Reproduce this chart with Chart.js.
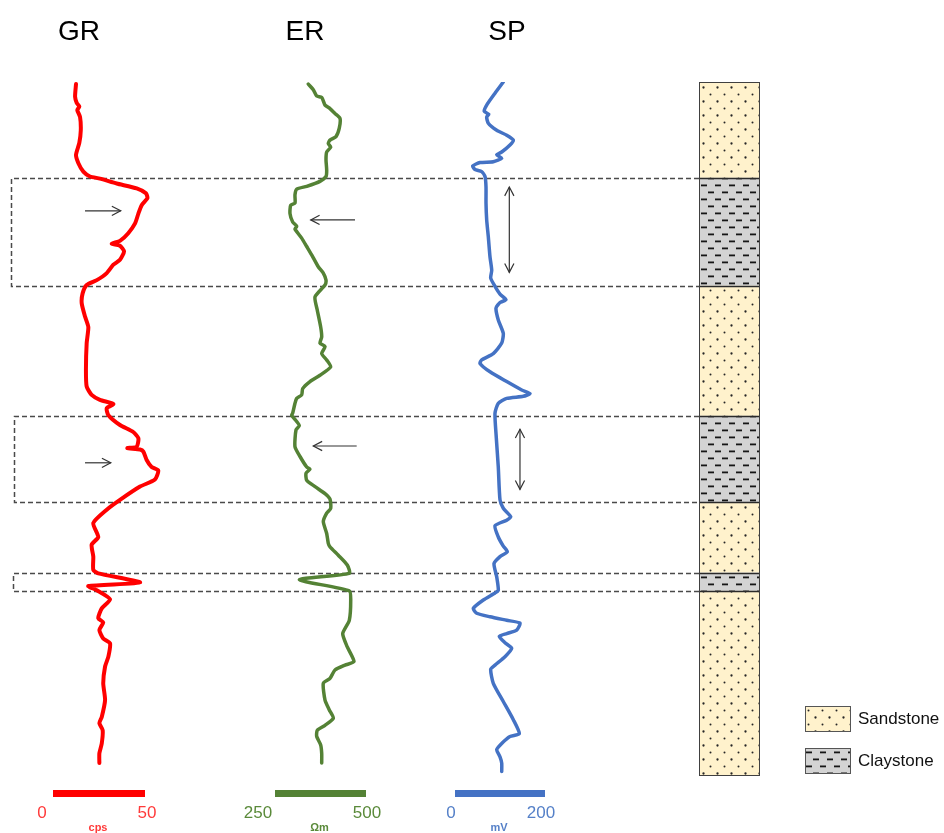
<!DOCTYPE html>
<html>
<head>
<meta charset="utf-8">
<script src="https://cdn.jsdelivr.net/npm/chart.js@4/dist/chart.umd.min.js"></script>
<style>
  html, body { margin: 0; padding: 0; background: #ffffff; }
  canvas { display: block; }
</style>
</head>
<body>
<canvas id="wellLog" width="944" height="833"></canvas>
<script>
// ---- Log data: depth in metres below the top of the interval ----
const grDepth = [0.3, 2.1, 3.0, 3.5, 4.0, 5.0, 6.9, 8.7, 10.4, 11.6, 12.8, 13.5, 13.8, 14.5, 15.2, 15.9, 16.6, 17.6, 18.8, 20.2,
  21.6, 22.7, 23.1, 23.4, 24.2, 25.4, 26.1, 27.3, 28.3, 29.0, 30.2, 31.6, 33.5, 35.0, 37.3, 41.1, 43.5, 44.7, 45.4, 46.0,
  46.6, 47.6, 49.0, 50.0, 50.9, 52.1, 52.3, 52.5, 52.8, 54.0, 55.0, 55.5, 56.8, 57.8, 59.7, 61.1, 63.0, 65.0, 66.1, 67.8,
  69.7, 70.2, 71.5, 72.0, 72.6, 73.9, 75.2, 76.6, 77.2, 78.3, 79.5, 80.2, 82.1, 83.5, 85.9, 88.3, 90.7, 91.6, 92.6, 94.5,
  95.9, 97.3];
const grCps = [12.5, 12.0, 12.9, 14.3, 13.2, 14.7, 15.1, 14.3, 12.5, 13.8, 16.5, 20.1, 25.5, 34.6, 45.5, 50.5, 51.3, 48.2, 46.4, 44.6,
  40.9, 36.4, 31.9, 36.4, 38.6, 36.4, 32.8, 29.2, 23.8, 18.3, 16.1, 15.6, 17.4, 19.2, 18.3, 17.9, 18.3, 21.0, 25.5, 32.8,
  29.2, 30.1, 36.4, 43.6, 46.4, 45.5, 40.4, 47.3, 49.1, 50.9, 53.6, 57.2, 55.4, 47.3, 36.4, 29.2, 21.9, 24.6, 21.0, 21.9,
  21.9, 24.6, 47.3, 19.2, 23.8, 31.0, 26.5, 24.6, 27.3, 25.2, 27.3, 31.0, 30.1, 28.3, 27.3, 28.3, 26.5, 25.2, 27.0, 26.5,
  25.2, 25.2];

const erDepth = [0.3, 1.1, 2.0, 2.2, 3.3, 3.8, 4.5, 5.2, 6.6, 7.8, 8.3, 8.8, 9.3, 10.0, 11.1, 12.6, 13.5, 14.2, 14.9, 15.3,
  16.1, 17.3, 17.6, 18.8, 20.0, 20.6, 21.0, 22.3, 23.5, 24.7, 26.4, 27.3, 28.3, 29.0, 30.7, 32.6, 35.0, 36.4, 37.3, 37.8,
  38.8, 39.7, 40.7, 41.9, 42.8, 43.8, 44.7, 45.2, 45.9, 47.3, 47.6, 48.5, 49.1, 49.7, 52.1, 53.5, 55.0, 55.3, 55.9, 56.9,
  57.8, 58.8, 59.6, 60.9, 61.6, 62.8, 64.5, 65.9, 66.4, 67.6, 69.0, 70.2, 71.1, 72.7, 74.0, 76.9, 78.8, 80.7, 82.8, 83.3,
  84.0, 85.2, 85.9, 88.3, 89.7, 90.9, 91.9, 92.6, 93.5, 94.7, 95.9, 97.3];
const erOhmM = [341.5, 355.2, 364.6, 378.3, 387.4, 401.1, 414.8, 428.6, 426.6, 417.6, 401.1, 396.4, 403.0, 392.0, 390.1, 392.0, 390.1, 373.6, 337.1, 309.6,
  304.9, 304.9, 293.1, 291.2, 298.6, 309.6, 304.9, 323.3, 337.1, 350.8, 368.9, 382.7, 390.1, 387.4, 359.9, 366.2, 375.5, 378.3, 373.6, 387.4,
  378.3, 392.0, 403.0, 373.6, 346.1, 326.1, 323.3, 309.6, 304.9, 298.6, 295.9, 309.6, 316.8, 307.7, 304.9, 318.7, 337.1, 346.1, 335.2, 337.1,
  359.9, 387.4, 401.1, 403.0, 392.0, 382.7, 392.0, 396.4, 401.1, 423.9, 448.6, 454.1, 316.8, 454.1, 458.0, 454.1, 436.0, 448.6, 467.0, 442.3,
  414.8, 401.1, 382.7, 387.4, 399.2, 410.2, 387.4, 366.2, 364.6, 375.5, 378.3, 378.3];

const spDepth = [0.0, 1.6, 3.3, 4.2, 4.6, 5.0, 5.9, 6.9, 7.6, 8.3, 9.0, 10.0, 10.4, 10.9, 11.4, 11.5, 12.0, 12.5, 12.8, 13.5,
  15.0, 17.3, 19.7, 22.1, 25.0, 26.9, 28.0, 29.2, 30.3, 31.1, 31.5, 32.3, 34.0, 35.9, 37.3, 38.8, 39.7, 40.2, 41.4, 42.8,
  44.0, 44.5, 44.9, 45.2, 45.9, 47.3, 50.2, 55.0, 59.7, 60.9, 62.1, 62.6, 63.4, 65.0, 66.3, 67.1, 67.8, 68.8, 70.7, 72.6,
  73.0, 74.0, 75.2, 75.9, 76.4, 76.9, 77.3, 78.3, 78.8, 79.2, 80.1, 80.9, 82.1, 83.3, 83.9, 85.9, 88.5, 91.1, 93.1, 93.5,
  94.5, 95.4, 96.4, 97.3, 98.5];
const spMv = [107.3, 88.9, 70.4, 65.0, 75.0, 70.4, 74.0, 92.7, 114.9, 129.6, 122.2, 103.8, 92.7, 103.8, 85.1, 55.6, 39.3, 44.4, 59.3, 66.7,
  68.9, 68.9, 70.4, 74.0, 77.8, 81.6, 79.3, 88.9, 100.0, 113.3, 100.0, 91.1, 96.2, 107.3, 103.8, 85.1, 59.3, 55.6, 77.8, 114.9,
  148.2, 166.7, 151.8, 114.9, 96.2, 88.9, 91.1, 96.2, 100.0, 107.3, 123.8, 114.9, 88.9, 96.2, 107.3, 116.2, 100.0, 86.7, 92.7, 96.2,
  88.9, 62.9, 40.7, 48.2, 77.8, 114.9, 144.4, 137.1, 114.9, 98.4, 111.1, 126.0, 111.1, 88.9, 79.3, 85.1, 107.3, 129.6, 142.9, 122.2,
  103.8, 92.7, 100.0, 103.8, 103.8];

// ---- Lithology column (tops and bases in metres) ----
const layerTop  = [0, 13.7, 29.1, 47.7, 60.0, 70.1, 72.7];
const layerBase = [13.7, 29.1, 47.7, 60.0, 70.1, 72.7, 99.0];
const layerRock = ['Sandstone', 'Claystone', 'Sandstone', 'Claystone', 'Sandstone', 'Claystone', 'Sandstone'];

// ---- Curve names, scale ranges and units ----
const logNames  = ['GR', 'ER', 'SP'];
const logUnits  = ['cps', 'Ωm', 'mV'];
const grRange = [0, 50];
const erRange = [250, 500];
const spRange = [0, 200];
const rangeLabels = [['0', '50'], ['250', '500'], ['0', '200']];

// Arrows marking the log response across the claystone beds
const arrowMarks = [
  { axis: 'xGR', x: [17.4, 36.8], d: [18.4, 18.4] },
  { axis: 'xGR', x: [17.4, 31.4], d: [54.4, 54.4] },
  { axis: 'xER', x: [469.8, 348.1], d: [19.7, 19.7] },
  { axis: 'xER', x: [474.4, 355.2], d: [52.0, 52.0] },
  { axis: 'xSP', x: [120.7, 120.7], d: [15.0, 27.2], both: true },
  { axis: 'xSP', x: [144.4, 144.4], d: [49.6, 58.2], both: true }
];

// ---- Layout ----
const W = 944, H = 833;
const plotTop = 82, plotBottom = 775;
const trackPx = { xGR: [53, 145], xER: [275, 366], xSP: [455, 545] };
const titleX = [79, 305, 507];
const rangeLabelX = [[42, 147], [258, 367], [451, 541]];
const colours = { xGR: '#ff0000', xER: '#548235', xSP: '#4472c4' };
const labelColours = { xGR: '#ff3a3a', xER: '#5a8a3a', xSP: '#5580c8' };
const axisIds = ['xGR', 'xER', 'xSP'];
const ranges = [grRange, erRange, spRange];
const columnX = [699, 759];
const boxLeft = [11, 14, 13];
const FONT = '"Liberation Sans", Arial, sans-serif';

// a hidden linear axis whose range lands on the track's pixel span
function trackAxis(id, range) {
  const [p0, p1] = trackPx[id];
  const k = (range[1] - range[0]) / (p1 - p0);
  return { type: 'linear', display: false, position: 'bottom',
           min: range[0] - p0 * k, max: range[1] + (W - p1) * k };
}

function toPoints(depths, values) {
  return depths.map((d, i) => ({ x: values[i], y: d }));
}

function makePattern(kind) {
  const c = document.createElement('canvas');
  c.width = 14; c.height = 14;
  const g = c.getContext('2d');
  if (kind === 'Sandstone') {
    g.fillStyle = '#fff2cc';
    g.fillRect(0, 0, 14, 14);
    g.fillStyle = '#262626';
    g.beginPath(); g.arc(3.5, 3.5, 1.15, 0, Math.PI * 2); g.fill();
    g.beginPath(); g.arc(10.5, 10.5, 1.0, 0, Math.PI * 2); g.fill();
  } else {
    g.fillStyle = '#d3d3d3';
    g.fillRect(0, 0, 14, 14);
    g.fillStyle = '#161616';
    g.fillRect(1, 2.5, 6, 1.8);
    g.fillRect(8, 9.5, 6, 1.8);
  }
  return g.createPattern(c, 'repeat');
}

function drawArrowHead(ctx, x, y, angle) {
  const len = 10, spread = 0.48;
  ctx.beginPath();
  ctx.moveTo(x - len * Math.cos(angle - spread), y - len * Math.sin(angle - spread));
  ctx.lineTo(x, y);
  ctx.lineTo(x - len * Math.cos(angle + spread), y - len * Math.sin(angle + spread));
  ctx.stroke();
}

const decorations = {
  id: 'decorations',
  beforeDatasetsDraw(chart) {
    const ctx = chart.ctx;
    const yScale = chart.scales.y;
    ctx.save();
    // lithology column
    const [cx0, cx1] = columnX;
    layerRock.forEach((rock, i) => {
      const y0 = yScale.getPixelForValue(layerTop[i]);
      const y1 = yScale.getPixelForValue(layerBase[i]);
      ctx.fillStyle = makePattern(rock);
      ctx.fillRect(cx0, y0, cx1 - cx0, y1 - y0);
    });
    ctx.strokeStyle = '#2a2a2a';
    ctx.lineWidth = 1.5;
    for (let i = 1; i < layerTop.length; i++) {
      const y = Math.round(yScale.getPixelForValue(layerTop[i])) + 0.5;
      ctx.beginPath(); ctx.moveTo(cx0, y); ctx.lineTo(cx1, y); ctx.stroke();
    }
    ctx.strokeStyle = '#404040';
    ctx.lineWidth = 1;
    ctx.strokeRect(cx0 + 0.5, yScale.getPixelForValue(layerTop[0]) + 0.5, cx1 - cx0,
                   yScale.getPixelForValue(layerBase[layerBase.length - 1]) - yScale.getPixelForValue(layerTop[0]));

    // dashed outlines across the claystone intervals
    ctx.strokeStyle = '#4a4a4a';
    ctx.lineWidth = 1.5;
    ctx.setLineDash([5, 3]);
    let b = 0;
    layerRock.forEach((rock, i) => {
      if (rock !== 'Claystone') return;
      const y0 = Math.round(yScale.getPixelForValue(layerTop[i])) + 0.5;
      const y1 = Math.round(yScale.getPixelForValue(layerBase[i])) + 0.5;
      const x0 = boxLeft[b++] + 0.5;
      ctx.beginPath();
      ctx.moveTo(cx0, y0); ctx.lineTo(x0, y0); ctx.lineTo(x0, y1); ctx.lineTo(cx0, y1);
      ctx.stroke();
    });
    ctx.setLineDash([]);
    ctx.restore();
  },
  afterDatasetsDraw(chart) {
    const ctx = chart.ctx;
    const yScale = chart.scales.y;
    ctx.save();

    // arrows
    ctx.strokeStyle = '#333333';
    ctx.lineWidth = 1.2;
    arrowMarks.forEach(a => {
      const s = chart.scales[a.axis];
      const x0 = s.getPixelForValue(a.x[0]), x1 = s.getPixelForValue(a.x[1]);
      const y0 = yScale.getPixelForValue(a.d[0]), y1 = yScale.getPixelForValue(a.d[1]);
      ctx.beginPath(); ctx.moveTo(x0, y0); ctx.lineTo(x1, y1); ctx.stroke();
      const ang = Math.atan2(y1 - y0, x1 - x0);
      drawArrowHead(ctx, x1, y1, ang);
      if (a.both) drawArrowHead(ctx, x0, y0, ang + Math.PI);
    });

    // curve titles and scale bars
    axisIds.forEach((id, i) => {
      const s = chart.scales[id];
      const xa = s.getPixelForValue(ranges[i][0]);
      const xb = s.getPixelForValue(ranges[i][1]);
      const mid = (xa + xb) / 2;
      ctx.fillStyle = '#000000';
      ctx.font = '28px ' + FONT;
      ctx.textAlign = 'center';
      ctx.textBaseline = 'middle';
      ctx.fillText(logNames[i], titleX[i], 32);

      ctx.fillStyle = colours[id];
      ctx.fillRect(xa, plotBottom + 15, xb - xa, 7);

      ctx.fillStyle = labelColours[id];
      ctx.font = '17px ' + FONT;
      ctx.fillText(rangeLabels[i][0], rangeLabelX[i][0], plotBottom + 38);
      ctx.fillText(rangeLabels[i][1], rangeLabelX[i][1], plotBottom + 38);
      ctx.font = 'bold 11px ' + FONT;
      ctx.fillText(logUnits[i], mid - 1, plotBottom + 53);
    });

    // legend
    const legendRocks = ['Sandstone', 'Claystone'];
    const legendY = [706, 748];
    legendRocks.forEach((rock, i) => {
      ctx.fillStyle = makePattern(rock);
      ctx.fillRect(805, legendY[i], 45, 25);
      ctx.strokeStyle = '#555555';
      ctx.lineWidth = 1;
      ctx.strokeRect(805.5, legendY[i] + 0.5, 45, 25);
      ctx.fillStyle = '#111111';
      ctx.font = '17px ' + FONT;
      ctx.textAlign = 'left';
      ctx.textBaseline = 'middle';
      ctx.fillText(rock, 858, legendY[i] + 13);
    });
    ctx.restore();
  }
};

const curveStyle = { showLine: true, fill: false, pointRadius: 0, tension: 0.2,
                     borderCapStyle: 'round', borderJoinStyle: 'round', yAxisID: 'y' };

new Chart(document.getElementById('wellLog'), {
  type: 'scatter',
  data: {
    datasets: [
      Object.assign({ label: 'GR', data: toPoints(grDepth, grCps), xAxisID: 'xGR',
                      borderColor: colours.xGR, borderWidth: 4 }, curveStyle),
      Object.assign({ label: 'ER', data: toPoints(erDepth, erOhmM), xAxisID: 'xER',
                      borderColor: colours.xER, borderWidth: 3.5 }, curveStyle),
      Object.assign({ label: 'SP', data: toPoints(spDepth, spMv), xAxisID: 'xSP',
                      borderColor: colours.xSP, borderWidth: 3.5 }, curveStyle)
    ]
  },
  options: {
    responsive: false,
    animation: false,
    layout: { padding: { top: plotTop, bottom: H - plotBottom, left: 0, right: 0 } },
    plugins: { legend: { display: false }, tooltip: { enabled: false } },
    scales: {
      y: { type: 'linear', display: false, reverse: true, min: 0, max: 99 },
      xGR: trackAxis('xGR', grRange),
      xER: trackAxis('xER', erRange),
      xSP: trackAxis('xSP', spRange)
    }
  },
  plugins: [decorations]
});
</script>
</body>
</html>
